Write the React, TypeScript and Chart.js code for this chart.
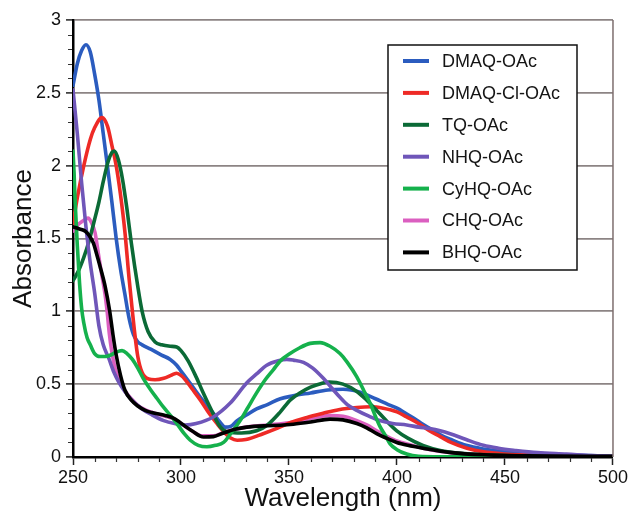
import React, { useEffect, useRef } from "react";
import { Chart, registerables } from "chart.js";

Chart.register(...registerables);

// ---- data (wavelength nm, absorbance) ----
const DMAQ_OAC: [number, number][] = [
  [250, 2.55], [252, 2.7], [254, 2.79], [256, 2.83], [258, 2.78], [260, 2.63], [262, 2.45], [264, 2.22],
  [266, 1.99], [268, 1.75], [270, 1.5], [272, 1.29], [274, 1.12], [276, 0.95], [278, 0.84], [280, 0.79],
  [282, 0.77], [286, 0.74], [291, 0.7], [295, 0.67], [298, 0.63], [300, 0.59], [305, 0.49], [310, 0.39],
  [315, 0.3], [318, 0.24], [320.5, 0.205], [323, 0.21], [326, 0.25], [330.5, 0.29], [335, 0.33], [340, 0.36],
  [346, 0.4], [352, 0.42], [360, 0.44], [368, 0.46], [375, 0.465], [383, 0.445], [390, 0.4], [396, 0.36],
  [400, 0.335], [404, 0.3], [408, 0.265], [412, 0.225], [417, 0.18], [421, 0.145], [425, 0.12], [432, 0.08],
  [440, 0.055], [448, 0.04], [460, 0.025], [478, 0.015], [500, 0.005],
];
const DMAQ_CL_OAC: [number, number][] = [
  [250, 1.6], [252, 1.78], [255, 2.0], [258, 2.18], [260, 2.26], [263.4, 2.33], [266, 2.27], [268, 2.14],
  [270, 2.0], [272, 1.8], [274, 1.55], [276, 1.22], [277.5, 1.0], [278.5, 0.86], [280, 0.69], [282, 0.58],
  [285, 0.535], [288, 0.53], [292, 0.54], [296, 0.565], [298, 0.575], [300, 0.56], [302, 0.53], [305, 0.47],
  [309, 0.39], [313, 0.3], [316.6, 0.23], [320, 0.17], [323, 0.13], [326, 0.115], [330, 0.12], [338, 0.16],
  [345, 0.2], [350.5, 0.235], [358, 0.27], [365.8, 0.3], [373, 0.325], [381.4, 0.34], [388, 0.345],
  [393.6, 0.335], [400, 0.31], [404.5, 0.275], [410, 0.23], [415, 0.18], [420, 0.14], [425, 0.1],
  [432.4, 0.06], [440, 0.035], [450, 0.02], [465, 0.01], [500, 0.003],
];
const TQ_OAC: [number, number][] = [
  [250, 1.21], [252.6, 1.28], [255, 1.37], [257.2, 1.47], [260, 1.63], [262, 1.75], [264, 1.89], [266.3, 2.03],
  [268, 2.09], [269.2, 2.1], [271, 2.04], [273, 1.9], [275, 1.7], [277, 1.47], [280, 1.17], [282, 1.0],
  [284.8, 0.86], [288, 0.79], [291, 0.77], [295, 0.76], [298, 0.755], [300, 0.73], [303.3, 0.66], [307, 0.55],
  [310, 0.45], [313.5, 0.34], [318, 0.21], [322, 0.17], [328, 0.165], [335, 0.18], [340, 0.22], [346, 0.31],
  [350.5, 0.39], [355, 0.44], [360, 0.48], [365, 0.505], [368.7, 0.515], [375, 0.5], [381.4, 0.45], [386, 0.39],
  [390.6, 0.32], [395, 0.25], [399.9, 0.18], [405, 0.13], [412, 0.08], [420, 0.045], [430, 0.025], [450, 0.01],
  [500, 0.003],
];
const NHQ_OAC: [number, number][] = [
  [250, 2.52], [252, 2.22], [254, 1.88], [256, 1.58], [258, 1.33], [260, 1.13], [262, 0.9], [264, 0.77],
  [266.5, 0.68], [269, 0.58], [271, 0.52], [274, 0.45], [277.3, 0.39], [282, 0.33], [286.5, 0.29], [292, 0.25],
  [297, 0.23], [302, 0.22], [307, 0.23], [315, 0.275], [322.8, 0.37], [330.5, 0.51], [335, 0.57], [339.7, 0.63],
  [345, 0.66], [349, 0.67], [352, 0.665], [356.7, 0.65], [361, 0.61], [365.9, 0.54], [370, 0.47], [373.6, 0.41],
  [377, 0.36], [381.4, 0.32], [387, 0.28], [392, 0.25], [398, 0.23], [404.5, 0.22], [410, 0.205], [415, 0.195],
  [420, 0.18], [424.6, 0.16], [432, 0.12], [440, 0.08], [447, 0.06], [455, 0.045], [465, 0.03], [478.5, 0.02],
  [490, 0.01], [500, 0.005],
];
const CYHQ_OAC: [number, number][] = [
  [250, 2.1], [250.5, 1.95], [251, 1.75], [252, 1.45], [253, 1.2], [254, 1.02], [255, 0.92], [256.5, 0.82],
  [258, 0.77], [260, 0.71], [262.5, 0.69], [265, 0.69], [267.5, 0.7], [270, 0.72], [272.7, 0.73], [275, 0.71],
  [277.5, 0.67], [280, 0.61], [282.5, 0.54], [286, 0.46], [289, 0.4], [292, 0.34], [296, 0.27], [299, 0.21],
  [301.5, 0.16], [304.3, 0.115], [308, 0.08], [312, 0.07], [316, 0.08], [319.7, 0.1], [323, 0.16], [327.4, 0.25],
  [331, 0.34], [335, 0.44], [339, 0.53], [342.8, 0.6], [346, 0.66], [350.5, 0.71], [355, 0.75], [359.8, 0.78],
  [364.4, 0.785], [369, 0.76], [373.6, 0.71], [377, 0.65], [381.4, 0.55], [384.5, 0.46], [387.5, 0.37],
  [390, 0.28], [392.1, 0.21], [394.5, 0.15], [396.8, 0.09], [400, 0.05], [404.5, 0.02], [410, 0.005],
  [420, 0.002], [500, 0.002],
];
const CHQ_OAC: [number, number][] = [
  [250, 1.55], [252, 1.59], [254.5, 1.62], [257, 1.64], [258.5, 1.61], [260.2, 1.54], [261.7, 1.4], [263.2, 1.26],
  [264.8, 1.12], [265.8, 1.0], [266.8, 0.85], [268, 0.72], [269.5, 0.61], [271, 0.54], [274, 0.455],
  [277.3, 0.395], [280, 0.355], [284, 0.32], [290, 0.29], [296, 0.265], [300, 0.23], [305, 0.18], [310, 0.145],
  [315, 0.145], [320, 0.17], [330, 0.205], [340, 0.22], [350, 0.235], [360, 0.265], [369, 0.285], [375, 0.28],
  [381.4, 0.25], [386, 0.22], [390.6, 0.18], [395, 0.145], [400, 0.11], [406, 0.085], [412, 0.06], [425, 0.03],
  [440, 0.015], [460, 0.008], [500, 0.005],
];
const BHQ_OAC: [number, number][] = [
  [250, 1.58], [253, 1.565], [255.7, 1.55], [257.5, 1.52], [259.4, 1.47], [261, 1.39], [262.5, 1.31],
  [264.9, 1.17], [267, 1.0], [268.5, 0.84], [270, 0.7], [272, 0.56], [274, 0.46], [277, 0.39], [280, 0.35],
  [283.4, 0.32], [286.5, 0.305], [292.7, 0.285], [296, 0.27], [298.8, 0.245], [302, 0.21], [305, 0.18],
  [310.4, 0.137], [315, 0.14], [319.7, 0.165], [325, 0.19], [330.5, 0.205], [340, 0.215], [346, 0.218],
  [352, 0.225], [360, 0.24], [369, 0.26], [375, 0.255], [381.4, 0.23], [386, 0.2], [390.6, 0.16], [395, 0.13],
  [399.9, 0.1], [405, 0.08], [412, 0.06], [425, 0.03], [440, 0.015], [460, 0.008], [500, 0.005],
];

const SERIES_NAMES = ["DMAQ-OAc", "DMAQ-Cl-OAc", "TQ-OAc", "NHQ-OAc", "CyHQ-OAc", "CHQ-OAc", "BHQ-OAc"];
const SERIES_DATA = [DMAQ_OAC, DMAQ_CL_OAC, TQ_OAC, NHQ_OAC, CYHQ_OAC, CHQ_OAC, BHQ_OAC];
const SERIES_COLORS = ["#2b5cbf", "#ee2a26", "#0b6a36", "#6f56b9", "#15b14c", "#db5fc0", "#000000"];
const SERIES_ORDER = [6, 5, 4, 3, 2, 7, 0];

const X_TICKS = [250, 300, 350, 400, 450, 500];
const Y_TICKS = [0, 0.5, 1, 1.5, 2, 2.5, 3];
const X_MINOR_STEP = 10;
const Y_MINOR_STEP = 0.1;

const FONT = "'Liberation Sans', Arial, Helvetica, sans-serif";

const decorPlugin = {
  id: "decor",
  afterDraw(chart: any) {
    const { ctx, chartArea, scales } = chart;
    const x = scales.x;
    const y = scales.y;
    ctx.save();
    // right frame
    ctx.strokeStyle = "#7d6e6e";
    ctx.lineWidth = 1.5;
    ctx.beginPath();
    ctx.moveTo(chartArea.right, chartArea.top);
    ctx.lineTo(chartArea.right, chartArea.bottom);
    ctx.stroke();
    // minor ticks
    ctx.strokeStyle = "#333";
    ctx.lineWidth = 1.2;
    ctx.beginPath();
    for (let v = X_TICKS[0] + X_MINOR_STEP; v < X_TICKS[X_TICKS.length - 1]; v += X_MINOR_STEP) {
      if (X_TICKS.includes(v)) continue;
      const px = Math.round(x.getPixelForValue(v)) + 0.5;
      ctx.moveTo(px, chartArea.bottom + 1);
      ctx.lineTo(px, chartArea.bottom + 5);
    }
    for (let i = 1; i < 30; i++) {
      const v = i * Y_MINOR_STEP;
      if (i % 5 === 0) continue;
      const py = Math.round(y.getPixelForValue(v)) + 0.5;
      ctx.moveTo(chartArea.left - 1, py);
      ctx.lineTo(chartArea.left - 5, py);
    }
    ctx.stroke();

    // legend box
    const bx = 388, by = 45, bw = 189, bh = 225;
    ctx.fillStyle = "#ffffff";
    ctx.fillRect(bx, by, bw, bh);
    ctx.strokeStyle = "#111";
    ctx.lineWidth = 1.5;
    ctx.strokeRect(bx, by, bw, bh);
    ctx.font = `18px ${FONT}`;
    ctx.textBaseline = "middle";
    ctx.textAlign = "left";
    SERIES_NAMES.forEach((name, i) => {
      const ly = by + 16 + i * 31.9;
      ctx.strokeStyle = SERIES_COLORS[i];
      ctx.lineWidth = 4;
      ctx.beginPath();
      ctx.moveTo(bx + 15, ly);
      ctx.lineTo(bx + 41, ly);
      ctx.stroke();
      ctx.fillStyle = "#151515";
      ctx.fillText(name, bx + 54, ly + 1);
    });
    ctx.restore();
  },
};

export default function App() {
  const ref = useRef<HTMLCanvasElement | null>(null);

  useEffect(() => {
    if (!ref.current) return;
    const chart = new Chart(ref.current, {
      type: "line",
      data: {
        datasets: SERIES_NAMES.map((name, i) => ({
          label: name,
          data: SERIES_DATA[i].map(([x, y]) => ({ x, y })),
          borderColor: SERIES_COLORS[i],
          backgroundColor: SERIES_COLORS[i],
          borderWidth: 3.6,
          pointRadius: 0,
          fill: false,
          cubicInterpolationMode: "monotone" as const,
          borderCapStyle: "round" as const,
          borderJoinStyle: "round" as const,
          order: SERIES_ORDER[i],
        })),
      },
      options: {
        animation: false,
        responsive: false,
        devicePixelRatio: 1,
        events: [],
        layout: { padding: { left: 0, top: 20, right: 16, bottom: 0 } },
        plugins: { legend: { display: false }, tooltip: { enabled: false } },
        scales: {
          x: {
            type: "linear",
            min: 250,
            max: 500,
            afterBuildTicks: (s: any) => {
              s.ticks = X_TICKS.map((v) => ({ value: v }));
            },
            afterFit: (s: any) => {
              s.height = 57;
            },
            ticks: {
              font: { family: FONT, size: 18 },
              color: "#111",
              padding: 2,
              maxRotation: 0,
              autoSkip: false,
              callback: (v: any) => String(v),
            },
            grid: {
              drawOnChartArea: false,
              drawTicks: true,
              tickLength: 8,
              tickColor: "#222",
              tickWidth: 1.5,
            },
            border: { display: true, color: "#000", width: 2.5 },
            title: {
              display: true,
              text: "Wavelength (nm)",
              font: { family: FONT, size: 26 },
              color: "#111",
              padding: 0,
            },
          },
          y: {
            type: "linear",
            min: 0,
            max: 3,
            afterBuildTicks: (s: any) => {
              s.ticks = Y_TICKS.map((v) => ({ value: v }));
            },
            afterFit: (s: any) => {
              s.width = 73;
            },
            ticks: {
              font: { family: FONT, size: 18 },
              color: "#111",
              padding: 5,
              callback: (v: any) => String(Number(v)),
            },
            grid: {
              color: (c: any) => (c.tick && c.tick.value === 0 ? "rgba(0,0,0,0)" : "#8c8484"),
              lineWidth: 1.8,
              drawTicks: true,
              tickLength: 7,
              tickColor: "#222",
              tickWidth: 1.5,
            },
            border: { display: true, color: "#000", width: 2.5 },
            title: {
              display: true,
              text: "Absorbance",
              font: { family: FONT, size: 26 },
              color: "#111",
              padding: { top: 8, bottom: 0 },
            },
          },
        },
      },
      plugins: [decorPlugin],
    });
    return () => chart.destroy();
  }, []);

  return (
    <div
      style={{
        position: "fixed",
        left: 0,
        top: 0,
        width: 630,
        height: 511,
        overflow: "hidden",
        background: "#fff",
      }}
    >
      <canvas ref={ref} width={630} height={514} style={{ display: "block", width: 630, height: 514 }} />
    </div>
  );
}
